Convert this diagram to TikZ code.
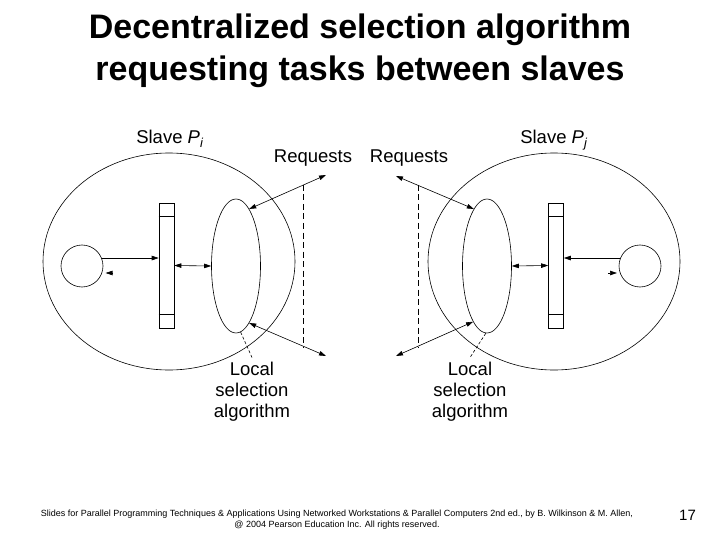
\documentclass[tikz,border=0pt]{standalone}
\usepackage{fontspec}
\setmainfont{Liberation Sans}
\usetikzlibrary{shapes.geometric,arrows.meta,calc}
\begin{document}
\begin{tikzpicture}[x=1pt,y=-1pt,
  ln/.style={line width=0.6pt, draw=black},
  tip/.tip={Triangle[length=7pt,width=4.5pt]},
  arr/.style={ln, -tip},
  darr/.style={ln, tip-tip},
  bigshape/.style={ellipse, ln, minimum width=252pt, minimum height=217pt, inner sep=0pt},
  algshape/.style={ellipse, ln, minimum width=49pt, minimum height=134pt, inner sep=0pt},
  proc/.style={circle, ln, minimum size=42pt, inner sep=0pt},
  queue/.style={rectangle, ln, minimum width=15pt, minimum height=125pt, inner sep=0pt},
  lbl/.style={font=\fontsize{18.5}{21}\selectfont, inner sep=0pt},
  dashv/.style={ln, dash pattern=on 6pt off 3.5pt},
  leader/.style={ln, dash pattern=on 3pt off 2pt}]
\useasboundingbox[fill=white] (0,0) rectangle (720,540);

% title
\node[font=\fontsize{34}{42}\selectfont\bfseries, align=center, anchor=base, inner sep=0pt] (title) at (360,81)
  {Decentralized selection algorithm\\requesting tasks between slaves};

% left slave
\node[bigshape] (bigL) at (169,261.5) {};
\node[proc] (circL) at (82,266) {};
\node[queue] (qL) at (166.5,265.5) {};
\node[algshape] (inL) at (236,266) {};
\draw[ln] ($(qL.north west)+(0,13.5)$) -- ($(qL.north east)+(0,13.5)$);
\draw[ln] ($(qL.south west)+(0,-14)$) -- ($(qL.south east)+(0,-14)$);
\draw[arr] (circL.22) -- (circL.22 -| qL.west);
\coordinate (tLa) at (113,273);
\coordinate (tLb) at (105.5,273);
\draw[arr] (tLa) -- (tLb);
\draw[darr] (qL.east) -- (inL.west);
\coordinate (rqLa) at (326,175);
\coordinate (rqLb) at (326,356);
\draw[darr] (inL.77) -- (rqLa);
\draw[darr] (inL.-77) -- (rqLb);
\coordinate (dLa) at (303,185);
\coordinate (dLb) at (303,347);
\draw[dashv] (dLa) -- (dLb);
\node[lbl, anchor=base] (slL) at (170,144) {Slave \textit{P}\textsubscript{\textit{i}}};
\node[lbl, anchor=base] (reqL) at (313,163) {Requests};
\node[lbl, align=center, anchor=north, inner ysep=4pt] (algL) at (252,357.5) {Local\\selection\\algorithm};
\draw[leader] (inL.-86) -- (algL.north);

% right slave
\node[bigshape] (bigR) at (554,261.5) {};
\node[proc] (circR) at (640,266) {};
\node[queue] (qR) at (556,265.5) {};
\node[algshape] (inR) at (487,266) {};
\draw[ln] ($(qR.north west)+(0,13.5)$) -- ($(qR.north east)+(0,13.5)$);
\draw[ln] ($(qR.south west)+(0,-14)$) -- ($(qR.south east)+(0,-14)$);
\draw[arr] (circR.158) -- (circR.158 -| qR.east);
\coordinate (tRa) at (608,273);
\coordinate (tRb) at (617,273);
\draw[arr] (tRa) -- (tRb);
\draw[darr] (inR.east) -- (qR.west);
\coordinate (rqRa) at (396,176);
\coordinate (rqRb) at (396,356);
\draw[darr] (inR.103) -- (rqRa);
\draw[darr] (inR.-104) -- (rqRb);
\coordinate (dRa) at (418,185);
\coordinate (dRb) at (418,347);
\draw[dashv] (dRa) -- (dRb);
\node[lbl, anchor=base] (slR) at (554,144) {Slave \textit{P}\textsubscript{\textit{j}}};
\node[lbl, anchor=base] (reqR) at (409,163) {Requests};
\node[lbl, align=center, anchor=north, inner ysep=4pt] (algR) at (470,357.5) {Local\\selection\\algorithm};
\draw[leader] (inR.-91) -- (algR.north);

% footer
\node[font=\fontsize{9}{11}\selectfont, align=center, anchor=base, inner sep=0pt] (foot) at (337,527)
  {Slides for Parallel Programming Techniques \& Applications Using Networked Workstations \& Parallel Computers 2nd ed., by B. Wilkinson \& M. Allen,\\@ 2004 Pearson Education Inc. All rights reserved.};
\node[font=\fontsize{15}{18}\selectfont, anchor=base, inner sep=0pt] (page) at (687.5,520) {17};
\end{tikzpicture}
\end{document}
